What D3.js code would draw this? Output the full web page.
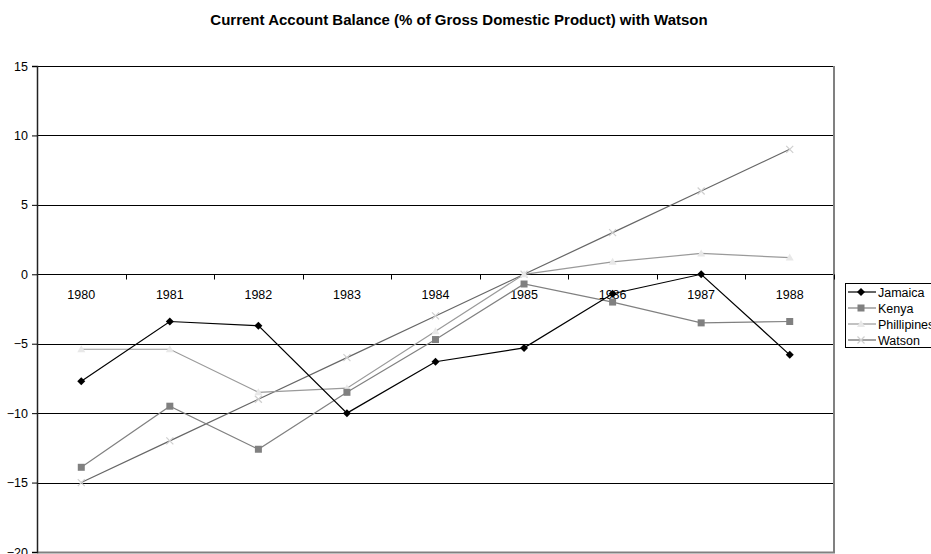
<!DOCTYPE html>
<html>
<head>
<meta charset="utf-8">
<script src="https://cdn.jsdelivr.net/npm/d3@7"></script>
<style>
  html, body { margin: 0; padding: 0; background: #fff; overflow: hidden; }
  svg { display: block; font-family: "Liberation Sans", Arial, sans-serif; }
</style>
</head>
<body>
<svg id="chart" width="931" height="554"></svg>
<script>
// Current account balance, % of GDP
const years = ["1980", "1981", "1982", "1983", "1984", "1985", "1986", "1987", "1988"];
const jamaica = [-7.7, -3.4, -3.7, -10.0, -6.3, -5.3, -1.4, 0.0, -5.8];
const kenya = [-13.9, -9.5, -12.6, -8.5, -4.7, -0.7, -2.0, -3.5, -3.4];
const phillipines = [-5.4, -5.4, -8.5, -8.2, -4.1, 0.0, 0.9, 1.5, 1.2];
const watson = [-15, -12, -9, -6, -3, 0, 3, 6, 9];
const yTicks = [15, 10, 5, 0, -5, -10, -15, -20];

const series = [
  { name: "Jamaica", values: jamaica, line: "#000000", marker: "diamond", fill: "#000000" },
  { name: "Kenya", values: kenya, line: "#808080", marker: "square", fill: "#808080" },
  { name: "Phillipines", values: phillipines, line: "#9a9a9a", marker: "triangle", fill: "#e8e8e8" },
  { name: "Watson", values: watson, line: "#666666", marker: "cross", fill: "#cfcfcf" }
];

const svg = d3.select("#chart");
const plotLeft = 37, plotRight = 834, plotTop = 66, plotBottom = 552;
const labelSize = 12.5;

const x = d3.scaleBand().domain(years).range([plotLeft, plotRight]);
const y = d3.scaleLinear().domain([-20, 15]).range([plotBottom, plotTop]);

// Title
svg.append("text")
  .attr("x", 459).attr("y", 25)
  .attr("text-anchor", "middle")
  .attr("font-size", 15).attr("font-weight", "bold")
  .text("Current Account Balance (% of Gross Domestic Product) with Watson");

// Horizontal gridlines
svg.append("g")
  .selectAll("line")
  .data(yTicks)
  .join("line")
  .attr("x1", plotLeft).attr("x2", plotRight)
  .attr("y1", d => Math.round(y(d)) + 0.5).attr("y2", d => Math.round(y(d)) + 0.5)
  .attr("stroke", "#000").attr("stroke-width", 1);

// Plot frame on right and bottom
svg.append("line").attr("x1", plotRight).attr("x2", plotRight).attr("y1", plotTop).attr("y2", plotBottom + 1)
  .attr("stroke", "#808080").attr("stroke-width", 2);
svg.append("line").attr("x1", plotLeft).attr("x2", plotRight + 1).attr("y1", plotBottom + 0.5).attr("y2", plotBottom + 0.5)
  .attr("stroke", "#808080").attr("stroke-width", 2);

// Y axis
const yAxis = svg.append("g")
  .attr("transform", `translate(${plotLeft},0)`)
  .call(d3.axisLeft(y).tickValues(yTicks).tickSize(5).tickPadding(4).tickFormat(d3.format("d")));
yAxis.select(".domain").attr("stroke", "#222").attr("stroke-width", 1.5);
yAxis.selectAll(".tick line").attr("stroke", "#000");
yAxis.selectAll(".tick text").attr("font-size", labelSize).attr("fill", "#000")
  .attr("font-family", "Liberation Sans, Arial, sans-serif");

// Category axis along zero, ticks at band boundaries
const y0 = Math.round(y(0)) + 0.5;
svg.append("g")
  .selectAll("line")
  .data(years)
  .join("line")
  .attr("x1", (d, i) => Math.round(plotLeft + (i + 1) * x.step()) + 0.5)
  .attr("x2", (d, i) => Math.round(plotLeft + (i + 1) * x.step()) + 0.5)
  .attr("y1", y0).attr("y2", y0 + 5)
  .attr("stroke", "#000");
svg.append("g")
  .selectAll("text")
  .data(years)
  .join("text")
  .attr("x", d => x(d) + x.bandwidth() / 2)
  .attr("y", y0 + 24.5)
  .attr("text-anchor", "middle")
  .attr("font-size", labelSize)
  .text(d => d);

// Marker shapes
function drawMarker(g, type, cx, cy, fill) {
  if (type === "diamond") {
    g.append("path").attr("d", `M${cx},${cy - 4}L${cx + 4},${cy}L${cx},${cy + 4}L${cx - 4},${cy}Z`)
      .attr("fill", fill);
  } else if (type === "square") {
    g.append("rect").attr("x", cx - 3.5).attr("y", cy - 3.5).attr("width", 7).attr("height", 7).attr("fill", fill);
  } else if (type === "triangle") {
    g.append("path").attr("d", `M${cx},${cy - 4}L${cx + 4},${cy + 3}L${cx - 4},${cy + 3}Z`)
      .attr("fill", fill);
  } else if (type === "cross") {
    g.append("path").attr("d", `M${cx - 3.5},${cy - 3.5}L${cx + 3.5},${cy + 3.5}M${cx - 3.5},${cy + 3.5}L${cx + 3.5},${cy - 3.5}`)
      .attr("stroke", fill).attr("stroke-width", 1.2).attr("fill", "none");
  }
}

const line = d3.line()
  .x((d, i) => x(years[i]) + x.bandwidth() / 2)
  .y(d => y(d));

// Draw in reverse so Jamaica sits on top
series.slice().reverse().forEach(s => {
  const g = svg.append("g");
  g.append("path").datum(s.values).attr("d", line)
    .attr("fill", "none").attr("stroke", s.line).attr("stroke-width", 1.2);
  s.values.forEach((v, i) => drawMarker(g, s.marker, x(years[i]) + x.bandwidth() / 2, y(v), s.fill));
});

// Legend
const lg = svg.append("g");
lg.append("rect").attr("x", 845.5).attr("y", 283.5).attr("width", 120).attr("height", 64)
  .attr("fill", "#fff").attr("stroke", "#000");
series.forEach((s, i) => {
  const ly = 292 + i * 16;
  lg.append("line").attr("x1", 848).attr("x2", 876).attr("y1", ly).attr("y2", ly)
    .attr("stroke", s.line).attr("stroke-width", 1.2);
  drawMarker(lg, s.marker, 861, ly, s.fill);
  lg.append("text").attr("x", 878).attr("y", ly + 4.5).attr("font-size", labelSize).text(s.name);
});
</script>
</body>
</html>
